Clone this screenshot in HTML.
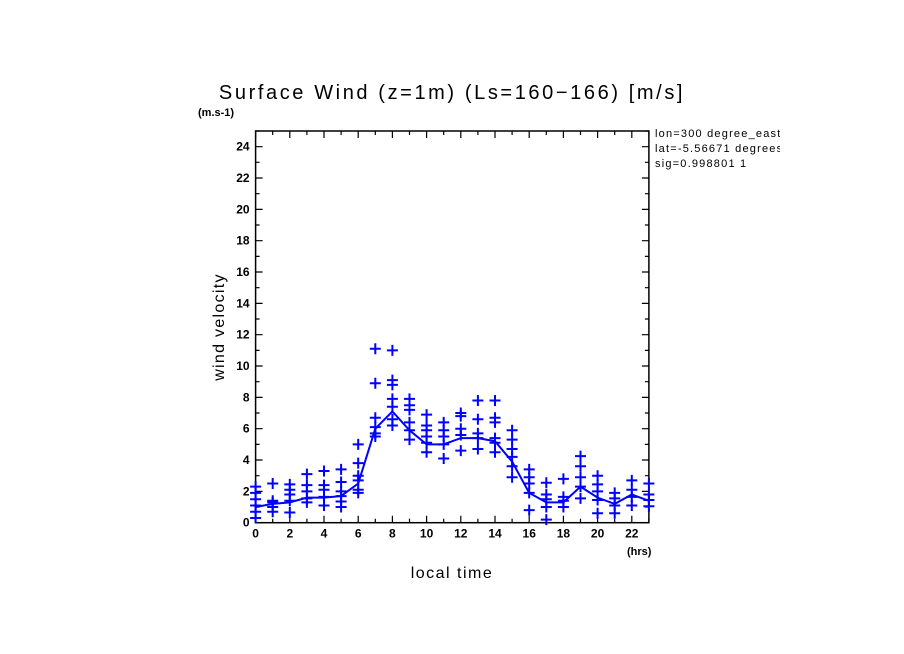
<!DOCTYPE html>
<html><head><meta charset="utf-8"><style>
body{margin:0;background:#fff;}
svg{display:block;font-family:"Liberation Sans",sans-serif;}
</style></head><body>
<svg id="c" width="904" height="654" viewBox="0 0 904 654">
<text x="452" y="99" font-size="20" letter-spacing="2.6" text-anchor="middle">Surface Wind (z=1m) (Ls=160−166) [m/s]</text>
<text x="198" y="116" font-size="11" font-weight="bold">(m.s-1)</text>
<text x="452" y="578" font-size="16" letter-spacing="1.5" text-anchor="middle">local time</text>
<text transform="translate(224,327) rotate(-90)" font-size="16" letter-spacing="1.3" text-anchor="middle">wind velocity</text>
<text x="627" y="555" font-size="11" font-weight="bold">(hrs)</text>
<g font-size="11" letter-spacing="1.2">
<svg x="652" y="124" width="128" height="50"><text x="3" y="13">lon=300 degree_east</text><text x="3" y="28">lat=-5.56671 degrees</text><text x="3" y="43">sig=0.998801 1</text></svg>
</g>
<g id="axes"></g><g id="marks"></g>
</svg>
<script>
const hours=[0,1,2,3,4,5,6,7,8,9,10,11,12,13,14,15,16,17,18,19,20,21,22,23];
const meanValues=[1.0,1.2,1.3,1.6,1.6,1.7,2.5,6.0,7.1,5.9,5.0,5.0,5.4,5.4,5.2,3.9,1.9,1.3,1.3,2.3,1.6,1.2,1.8,1.4];
const samples=[[2.3,1.9,1.5,1.1,0.7,0.3],[2.5,1.4,1.3,1.0,0.7],[2.45,2.1,1.8,1.4,0.65],[3.1,2.4,2.0,1.55,1.3],[3.3,2.4,2.1,1.65,1.1],[3.4,2.6,2.0,1.7,1.35,1.0],[5.0,3.8,3.0,2.7,2.1,1.9],[11.1,8.9,6.7,6.1,5.7,5.5],[11.0,9.1,8.8,7.9,7.4,6.6,6.2],[7.9,7.5,7.2,6.4,5.9,5.3],[6.9,6.2,5.9,5.5,5.1,4.5],[6.4,5.9,5.5,5.0,4.1],[7.0,6.8,6.0,5.6,4.6],[7.8,6.6,5.7,5.4,4.7],[7.8,6.7,6.4,5.4,5.1,4.5],[5.9,5.3,4.7,4.2,3.6,2.9],[3.4,2.9,2.5,1.9,0.8],[2.55,1.8,1.5,1.0,0.2],[2.8,1.65,1.4,1.0],[4.25,3.6,2.9,2.3,1.55],[3.0,2.45,2.0,1.45,0.6],[1.9,1.55,1.1,0.6],[2.7,2.1,1.65,1.1],[2.5,1.8,1.45,1.05]];
const yTickLabels=[0,2,4,6,8,10,12,14,16,18,20,22,24];
const xTickLabels=[0,2,4,6,8,10,12,14,16,18,20,22];
const L=255.6,R=648.9,T=131,B=522.7,XMAX=23,YMAX=25;
const sx=v=>L+(R-L)*v/XMAX, sy=v=>B-(B-T)*v/YMAX;
const NS="http://www.w3.org/2000/svg";
function mk(tag,attrs,parent){const e=document.createElementNS(NS,tag);for(const k in attrs)e.setAttribute(k,attrs[k]);parent.appendChild(e);return e;}
const ax=document.getElementById('axes'),mg=document.getElementById('marks');
const fr=mk('rect',{x:L,y:T,width:R-L,height:B-T,fill:'none',stroke:'#000','stroke-width':1.5},ax);


for(let v=0;v<=YMAX;v++){const y=sy(v),len=v%2==0?7:4;
 const t=mk('path',{d:`M${L},${y}h${len}M${R},${y}h${-len}`,stroke:'#000','stroke-width':1.2},ax);
 
 }
for(let v=0;v<=XMAX;v++){const x=sx(v),len=v%2==0?7:4;
 const t=mk('path',{d:`M${x},${B}v${-len}M${x},${T}v${len}`,stroke:'#000','stroke-width':1.2},ax);
 
 }
yTickLabels.forEach(v=>{const t=mk('text',{x:L-6,y:sy(v)+4,'font-size':12,'font-weight':'bold','text-anchor':'end'},ax);t.textContent=v;
 
 });
xTickLabels.forEach(v=>{const t=mk('text',{x:sx(v),y:B+15,'font-size':12,'font-weight':'bold','text-anchor':'middle'},ax);t.textContent=v;
 
 });
const ln=mk('polyline',{points:hours.map((h,i)=>sx(h)+','+sy(meanValues[i])).join(' '),fill:'none',stroke:'#0000ff','stroke-width':2},mg);


hours.forEach((h,i)=>samples[i].forEach(v=>{const x=sx(h),y=sy(v);
 const p=mk('path',{d:`M${x-5.5},${y}h11M${x},${y-5.5}v11`,stroke:'#0000ff','stroke-width':2},mg);
 
 }));
</script>
</body></html>
